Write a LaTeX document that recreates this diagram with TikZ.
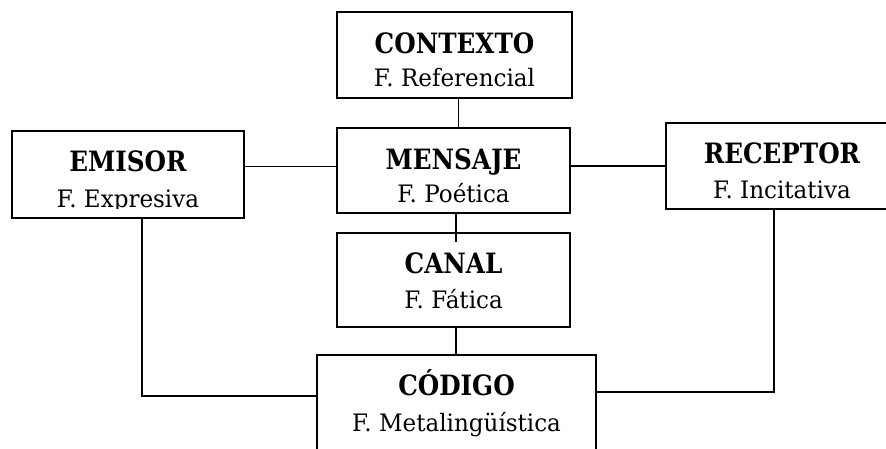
\documentclass[tikz,border=0pt]{standalone}
\usepackage{fontspec}
\setmainfont{DejaVu Serif}
\newfontfamily\titlefont{DejaVu Serif Bold}[FakeStretch=0.88]
\newfontfamily\namefont{DejaVu Serif}[FakeStretch=0.96]
\usepackage{tikz}

\begin{document}
\begin{tikzpicture}[x=1pt,y=-1pt,
  funcbox/.style={draw, line width=1.8pt, inner sep=0pt},
  functitle/.style={anchor=base, inner sep=0pt, font=\titlefont\fontsize{28}{32}\selectfont},
  funcname/.style={anchor=base, inner sep=0pt, font=\namefont\fontsize{24}{28}\selectfont},
  wire/.style={line width=1.7pt}]
\clip (0,0) rectangle (886,448);
\fill[white] (0,0) rectangle (886,448);
% boxes
\node[funcbox, minimum width=235pt, minimum height=86pt] (contexto) at (454.5,55) {};
\node[funcbox, minimum width=233pt, minimum height=85pt] (mensaje) at (453.5,170.5) {};
\node[funcbox, minimum width=232pt, minimum height=87pt] (emisor) at (128,174.5) {};
\node[funcbox, minimum width=232pt, minimum height=86pt] (receptor) at (782,166) {};
\node[funcbox, minimum width=233pt, minimum height=94pt] (canal) at (453.5,280) {};
\node[funcbox, minimum width=279pt, minimum height=110pt] (codigo) at (456.5,410) {};
% texts
\node[functitle] (contexto-t) at ([yshift=-42pt]contexto.north) {CONTEXTO};
\node[funcname] (contexto-f) at ([yshift=-75pt]contexto.north) {F. Referencial};
\node[functitle] (mensaje-t) at ([yshift=-42pt]mensaje.north) {MENSAJE};
\node[funcname] (mensaje-f) at ([yshift=-75pt]mensaje.north) {F. Poética};
\node[functitle] (emisor-t) at ([yshift=-41pt]emisor.north) {EMISOR};
\begin{scope}
\clip ([yshift=10pt]emisor.south west) rectangle (emisor.north east);
\node[funcname] (emisor-f) at ([yshift=-77pt]emisor.north) {F. Expresiva};
\end{scope}
\node[functitle] (receptor-t) at ([yshift=-41pt]receptor.north) {RECEPTOR};
\node[funcname] (receptor-f) at ([yshift=-76pt]receptor.north) {F. Incitativa};
\node[functitle] (canal-t) at ([yshift=-41pt]canal.north) {CANAL};
\node[funcname] (canal-f) at ([yshift=-76pt]canal.north) {F. Fática};
\node[functitle] (codigo-t) at ([yshift=-41pt]codigo.north) {CÓDIGO};
\node[funcname] (codigo-f) at ([yshift=-77pt]codigo.north) {F. Metalingüística};
% connectors
\draw[wire] ([xshift=4pt]contexto.south) -- ([xshift=4pt]contexto.south |- mensaje.north);
\draw[wire] ([yshift=8pt]emisor.east) -- ([yshift=8pt]emisor.east -| mensaje.west);
\draw[wire] (mensaje.east |- receptor.west) -- (receptor.west);
\draw[wire] ([xshift=2.5pt]mensaje.south) -- ([xshift=2.5pt,yshift=-10pt]mensaje.south |- canal.north);
\draw[wire] ([xshift=2.5pt]canal.south) -- ([xshift=2.5pt]canal.south |- codigo.north);
\draw[wire] ([xshift=14pt]emisor.south) |- ([yshift=-42pt]codigo.north west);
\draw[wire] ([xshift=-8pt]receptor.south) |- ([yshift=-38pt]codigo.north east);
\end{tikzpicture}
\end{document}
